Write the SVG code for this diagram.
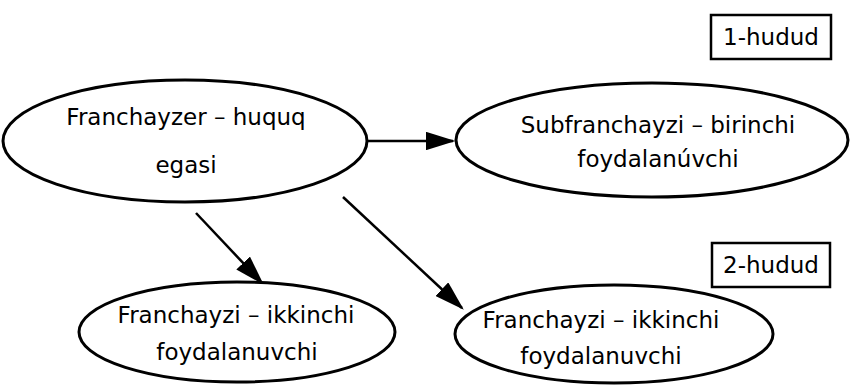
<svg xmlns="http://www.w3.org/2000/svg" width="851" height="385" viewBox="0 0 851 385">
<style>
.n{fill:#fff;stroke:#000;stroke-width:3}
.b{fill:#fff;stroke:#000;stroke-width:2.5}
.t{font-family:"DejaVu Sans","Liberation Sans",sans-serif;font-size:23px;fill:#000;text-anchor:middle}
.c{stroke:#000;stroke-width:2.5;fill:none;marker-end:url(#ah)}
</style>
<defs>
<marker id="ah" markerWidth="12" markerHeight="7.5" refX="11" refY="3.75" orient="auto" markerUnits="strokeWidth">
<path d="M0,0 L12,3.75 L0,7.5 Z" fill="#000"/>
</marker>
</defs>
<rect width="851" height="385" fill="#fff"/>
<g id="connectors">
<line class="c" x1="366" y1="141" x2="453" y2="141"/>
<line class="c" x1="196" y1="213" x2="262" y2="283"/>
<line class="c" x1="343" y1="197" x2="462" y2="308"/>
</g>
<g id="franchayzer">
<ellipse class="n" cx="185" cy="141" rx="182" ry="61"/>
<text class="t" x="186" y="125">Franchayzer – huquq</text>
<text class="t" x="186" y="173">egasi</text>
</g>
<g id="subfranchayzi">
<ellipse class="n" cx="652" cy="140" rx="196" ry="57"/>
<text class="t" x="658" y="133">Subfranchayzi – birinchi</text>
<text class="t" x="658" y="167">foydalanúvchi</text>
</g>
<g id="franchayzi1">
<ellipse class="n" cx="237" cy="332" rx="158" ry="50"/>
<text class="t" x="236" y="323">Franchayzi – ikkinchi</text>
<text class="t" x="237" y="360">foydalanuvchi</text>
</g>
<g id="franchayzi2">
<ellipse class="n" cx="614" cy="334" rx="159" ry="49"/>
<text class="t" x="601" y="328">Franchayzi – ikkinchi</text>
<text class="t" x="601" y="364">foydalanuvchi</text>
</g>
<g id="hudud1">
<rect class="b" x="711" y="15" width="120" height="44"/>
<text class="t" x="771" y="45">1-hudud</text>
</g>
<g id="hudud2">
<rect class="b" x="712" y="243" width="118" height="44"/>
<text class="t" x="771" y="273">2-hudud</text>
</g>
</svg>
